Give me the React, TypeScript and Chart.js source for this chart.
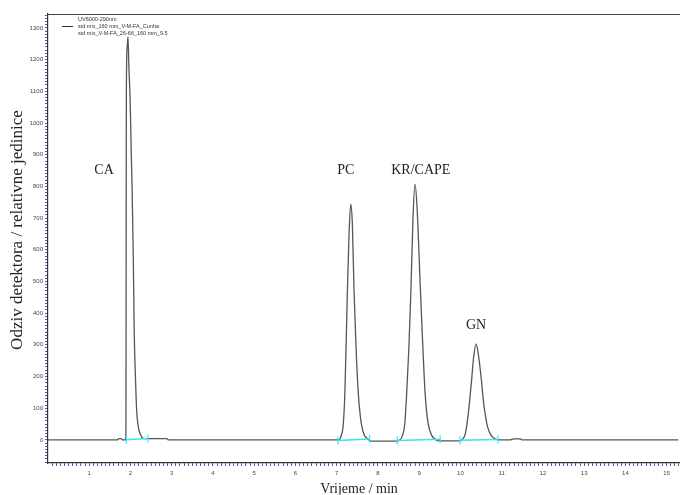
import React, { useEffect, useRef } from 'react';
import { Chart, registerables } from 'chart.js';
Chart.register(...registerables);

// Chromatogram trace (time in min, detector response)
const traceTime = [
  0, 1.68, 1.72, 1.77, 1.81, 1.88,
  1.89, 1.895, 1.9, 1.92, 1.94, 1.96, 1.99, 2.02, 2.04, 2.07, 2.09, 2.12, 2.15, 2.18, 2.21, 2.26, 2.31, 2.42, 2.88, 2.92,
  7.06, 7.1, 7.16, 7.2, 7.26, 7.3, 7.34, 7.38, 7.42, 7.47, 7.52, 7.56, 7.6, 7.66, 7.75, 7.82,
  8.45, 8.52,
  8.6, 8.65, 8.7, 8.75, 8.8, 8.85, 8.9, 8.95, 9.03, 9.09, 9.14, 9.18, 9.22, 9.3, 9.41, 9.5,
  10.0, 10.06, 10.12, 10.19, 10.27, 10.32, 10.38, 10.44, 10.51, 10.56, 10.6, 10.66, 10.74, 10.83, 10.95,
  11.2, 11.3, 11.45, 11.5, 15.28,
];
const traceSignal = [
  0, 0, 4, 4, 0, 0,
  40, 600, 1100, 1240, 1272, 1180, 1080, 900, 788, 560, 345, 200, 92, 50, 28, 12, 5, 4, 4, 0,
  0, 10, 50, 155, 472, 650, 744, 680, 472, 290, 155, 90, 50, 18, 3, -4,
  -4, -1,
  15, 50, 155, 290, 472, 700, 807, 730, 472, 290, 155, 90, 50, 15, 0, -3,
  -3, 3, 20, 82, 187, 260, 303, 265, 187, 120, 82, 40, 15, 4, 0,
  0, 3, 3, 0, 0,
];

// Integration baselines (cyan)
const baseStartTime = [1.9, 7.03, 8.47, 9.99];
const baseStartSignal = [0, -2, -2, -1];
const baseEndTime = [2.42, 7.8, 9.51, 10.91];
const baseEndSignal = [4, 3, 2, 1];

// Peak labels
const peakLabels = ['CA', 'PC', 'KR/CAPE', 'GN'];
const peakLabelTime = [1.36, 7.22, 9.04, 10.38];
const peakLabelSignal = [852, 852, 852, 363];

// Legend texts
const legendTitle = 'UV6000-290nm';
const legendLines = ['std mix_160 mm_V-M-FA_Cunha', 'std mix_V-M-FA_26-66_160 mm_9.5'];

const xTitle = 'Vrijeme / min';
const yTitle = 'Odziv detektora / relativne jedinice';

const X_MIN = 0, X_MAX = 15.31, Y_MIN = -73, Y_MAX = 1344;

export default function App() {
  const ref = useRef<HTMLCanvasElement | null>(null);
  useEffect(() => {
    document.body.style.margin = '0';
    const canvas = ref.current!;
    const tracePts = traceTime.map((t, i) => ({ x: t, y: traceSignal[i] }));
    const baseSets = baseStartTime.map((t, i) => ({
      type: 'line' as const,
      data: [
        { x: t, y: baseStartSignal[i] },
        { x: baseEndTime[i], y: baseEndSignal[i] },
      ],
      borderColor: '#33e6f0',
      borderWidth: 1.5,
      pointStyle: 'line' as const,
      rotation: 90,
      pointRadius: 4,
      pointBorderColor: '#33e6f0',
      pointBorderWidth: 1.2,
      showLine: true,
      order: 0,
    }));

    const textPlugin = {
      id: 'texts',
      afterDraw(chart: any) {
        const ctx = chart.ctx;
        const xs = chart.scales.x, ys = chart.scales.y;
        ctx.save();
        ctx.fillStyle = '#222';
        ctx.font = '14px "Liberation Serif", serif';
        ctx.textAlign = 'center';
        ctx.textBaseline = 'middle';
        peakLabels.forEach((l, i) => {
          ctx.fillText(l, xs.getPixelForValue(peakLabelTime[i]), ys.getPixelForValue(peakLabelSignal[i]));
        });
        // axis titles
        ctx.font = '14px "Liberation Serif", serif';
        ctx.fillText(xTitle, 359, 489);
        ctx.save();
        ctx.translate(18, 230);
        ctx.rotate(-Math.PI / 2);
        ctx.font = '17px "Liberation Serif", serif';
        ctx.fillText(yTitle, 0, 0);
        ctx.restore();
        // legend
        ctx.font = '5.5px "Liberation Sans", sans-serif';
        ctx.fillStyle = '#333';
        ctx.textAlign = 'left';
        ctx.fillText(legendTitle, 78, 19);
        legendLines.forEach((l, i) => ctx.fillText(l, 78, 26.5 + i * 7));
        ctx.strokeStyle = '#333';
        ctx.lineWidth = 1;
        ctx.beginPath();
        ctx.moveTo(62, 26.5);
        ctx.lineTo(73, 26.5);
        ctx.stroke();
        ctx.restore();
      },
    };

    const chart = new Chart(canvas, {
      type: 'scatter',
      data: {
        datasets: [
          {
            type: 'line',
            data: tracePts,
            borderColor: '#555',
            borderWidth: 1.3,
            pointRadius: 0,
            tension: 0.3,
            cubicInterpolationMode: 'monotone',
            order: 1,
          } as any,
          ...baseSets,
        ],
      },
      options: {
        responsive: false,
        animation: false,
        layout: { padding: 0, autoPadding: false },
        plugins: { legend: { display: false }, tooltip: { enabled: false } },
        scales: {
          x: {
            type: 'linear',
            min: X_MIN,
            max: X_MAX,
            afterBuildTicks: (s: any) => {
              const t = [];
              for (let k = 1; k <= 153; k++) t.push({ value: k / 10 });
              s.ticks = t;
            },
            afterFit: (s: any) => { s.height = 32; },
            ticks: {
              autoSkip: false,
              maxRotation: 0,
              minRotation: 0,
              padding: 4,
              color: '#444',
              font: { size: 6, family: '"Liberation Sans", sans-serif' },
              callback: (v: any) => {
                const k = Math.round(Number(v) * 10);
                return k % 10 === 0 ? String(k / 10) : '';
              },
            },
            grid: {
              drawOnChartArea: false,
              drawTicks: true,
              tickLength: 3,
              tickColor: '#4a5bb0',
            },
            border: { display: true, color: '#333', width: 1.2 },
          },
          xTop: {
            type: 'linear',
            position: 'top',
            min: 0,
            max: 1,
            afterFit: (s: any) => { s.height = 14; },
            ticks: { display: false },
            grid: { drawOnChartArea: false, drawTicks: false },
            border: { display: true, color: '#444', width: 1 },
          },
          y: {
            type: 'linear',
            min: Y_MIN,
            max: Y_MAX,
            afterBuildTicks: (s: any) => {
              const t = [];
              for (let v = -70; v <= 1340; v += 10) t.push({ value: v });
              s.ticks = t;
            },
            afterFit: (s: any) => { s.width = 48; },
            ticks: {
              autoSkip: false,
              padding: 2,
              color: '#444',
              font: { size: 6, family: '"Liberation Sans", sans-serif' },
              callback: (v: any) => {
                const n = Math.round(Number(v));
                return n % 100 === 0 && n >= 0 ? String(n) : '';
              },
            },
            grid: {
              drawOnChartArea: false,
              drawTicks: true,
              tickLength: 3,
              tickColor: '#4a5bb0',
            },
            border: { display: true, color: '#333', width: 1.2 },
          },
        },
      } as any,
      plugins: [textPlugin],
    });
    return () => chart.destroy();
  }, []);
  return <canvas ref={ref} width={683} height={495} style={{ display: 'block', width: 683, height: 495 }} />;
}
